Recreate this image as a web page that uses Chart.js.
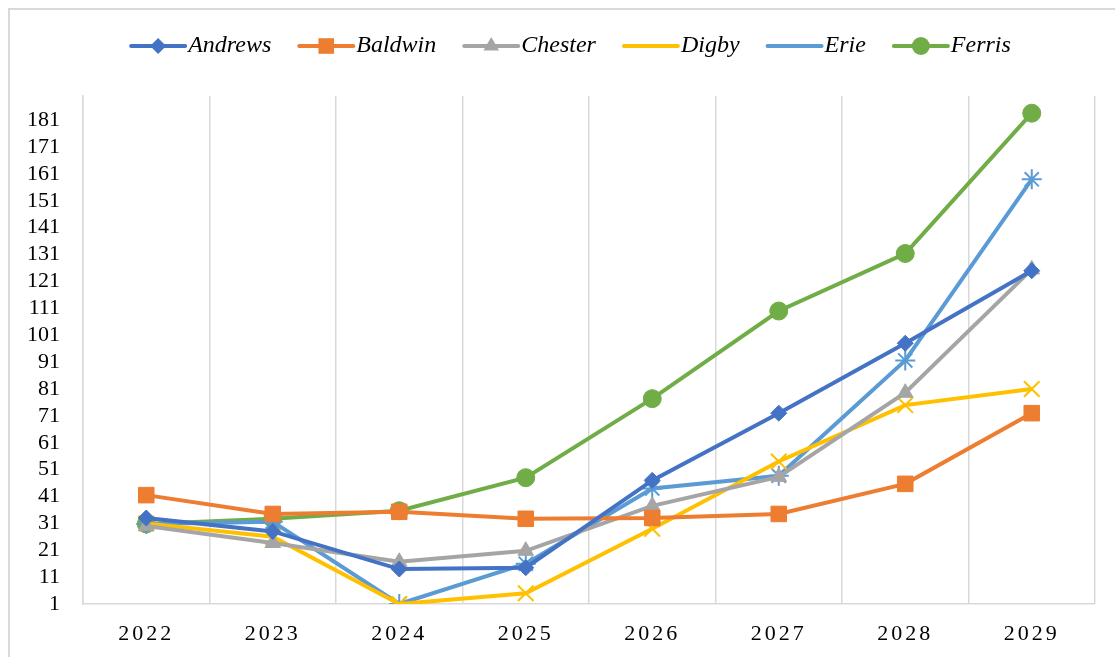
<!DOCTYPE html>
<html>
<head>
<meta charset="utf-8">
<script src="https://cdn.jsdelivr.net/npm/chart.js@4"></script>
<style>
  body { margin: 0; background: #fff; }
  #wrap { position: relative; width: 1115px; height: 657px; overflow: hidden; }
  #frame { position: absolute; left: 8px; top: 8px; width: 1200px; height: 700px; border: 2px solid #d9d9d9; pointer-events: none; }
</style>
</head>
<body>
<div id="wrap">
  <canvas id="lineChart" width="1115" height="657"></canvas>
  <div id="frame"></div>
</div>
<script>
// chart data
const years = ['2022', '2023', '2024', '2025', '2026', '2027', '2028', '2029'];
const andrews = [33, 28, 14, 14.5, 47, 72, 98, 125];
const baldwin = [41.5, 34.5, 35.3, 32.7, 33, 34.5, 45.7, 72];
const chester = [30, 23.7, 16.7, 20.8, 37.5, 48.3, 79.6, 125.5];
const digby = [31, 26, 1, 5, 29, 54, 75, 81];
const erie = [30.8, 31.6, 1, 16, 44, 48.7, 91.6, 159];
const ferris = [30.8, 32.7, 35.7, 48, 77.4, 110, 131.4, 183.6];
const yTickLabels = ['1', '11', '21', '31', '41', '51', '61', '71', '81', '91', '101', '111', '121', '131', '141', '151', '161', '171', '181'];

const gridGray = '#d9d9d9';
const serif = "'Liberation Serif', 'Times New Roman', serif";

function series(label, data, color, style, radius, bw) {
    return {
        label: label,
        data: data,
        borderColor: color,
        backgroundColor: color,
        borderWidth: 4,
        pointStyle: style,
        pointRadius: radius,
        pointHoverRadius: radius,
        pointBorderColor: color,
        pointBackgroundColor: color,
        pointBorderWidth: bw,
        tension: 0
    };
}

// legend drawn by hand: line segment with the marker on it, text in italics
const lineLegend = {
    id: 'lineLegend',
    afterDraw(chart) {
        const ctx = chart.ctx;
        const sets = chart.data.datasets;
        const segW = 54, gapText = 3, gapItem = 28, cy = 46;
        ctx.save();
        ctx.font = 'italic 24px ' + serif;
        let total = 0;
        sets.forEach(function(ds, i) {
            total += segW + gapText + ctx.measureText(ds.label).width + (i < sets.length - 1 ? gapItem : 0);
        });
        let x = 571 - total / 2;
        sets.forEach(function(ds) {
            ctx.strokeStyle = ds.borderColor;
            ctx.lineWidth = 4;
            ctx.lineCap = 'round';
            ctx.beginPath();
            ctx.moveTo(x, cy);
            ctx.lineTo(x + segW, cy);
            ctx.stroke();
            ctx.fillStyle = ds.pointBackgroundColor;
            ctx.strokeStyle = ds.pointBorderColor;
            ctx.lineWidth = ds.pointBorderWidth;
            Chart.helpers.drawPoint(ctx, { pointStyle: ds.pointStyle, rotation: 0, radius: ds.pointRadius }, x + segW / 2, cy);
            ctx.fillStyle = '#000';
            ctx.textBaseline = 'middle';
            ctx.textAlign = 'left';
            const tx = x + segW + gapText;
            ctx.fillText(ds.label, tx, cy);
            x = tx + ctx.measureText(ds.label).width + gapItem;
        });
        ctx.restore();
    }
};

// spaced-out year labels
const spacedYears = {
    id: 'spacedYears',
    afterUpdate(chart) {
        const s = chart.scales.x;
        if (s && !s._spaced) {
            const orig = s.drawLabels.bind(s);
            s.drawLabels = function(area) {
                this.ctx.save();
                this.ctx.letterSpacing = '3px';
                orig(area);
                this.ctx.restore();
            };
            s._spaced = true;
        }
    }
};

const canvas = document.getElementById('lineChart').getContext('2d');
new Chart(canvas, {
    type: 'line',
    data: {
        labels: years,
        datasets: [
            series('Andrews', andrews, '#4472C4', 'rectRot', 8, 1),
            series('Baldwin', baldwin, '#ED7D31', 'rect', 11, 1),
            series('Chester', chester, '#A5A5A5', 'triangle', 9, 1),
            series('Digby', digby, '#FFC000', 'crossRot', 11, 2),
            series('Erie', erie, '#5B9BD5', 'star', 10, 2),
            series('Ferris', ferris, '#70AD47', 'circle', 9, 1)
        ]
    },
    options: {
        responsive: false,
        animation: false,
        devicePixelRatio: 1,
        layout: { padding: { top: 96, right: 20, left: 0, bottom: 0 } },
        plugins: {
            legend: { display: false },
            tooltip: { enabled: false }
        },
        scales: {
            x: {
                offset: true,
                grid: { offset: true, color: gridGray, lineWidth: 1.5, drawTicks: false },
                border: { display: true, color: gridGray, width: 1.5 },
                ticks: { color: '#000', padding: 17, font: { family: serif, size: 22 } },
                afterFit: function(scale) { scale.height = 53; }
            },
            y: {
                min: 1,
                max: 190,
                grid: { display: false, drawTicks: false },
                border: { display: true, color: gridGray, width: 1.5 },
                ticks: {
                    stepSize: 10,
                    autoSkip: false,
                    color: '#000',
                    padding: 23,
                    font: { family: serif, size: 22 }
                },
                afterBuildTicks: function(scale) {
                    scale.ticks = yTickLabels.map(function(t) { return { value: Number(t) }; });
                },
                afterFit: function(scale) { scale.width = 83; }
            }
        }
    },
    plugins: [lineLegend, spacedYears]
});
</script>
</body>
</html>
